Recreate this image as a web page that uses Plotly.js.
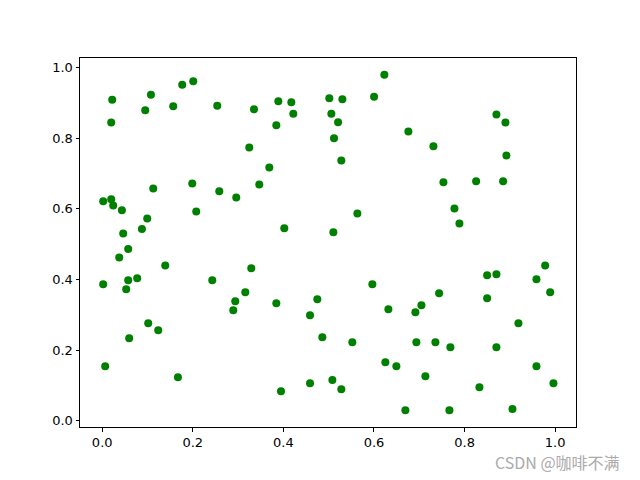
<!DOCTYPE html>
<html>
<head>
<meta charset="utf-8">
<script src="https://cdn.plot.ly/plotly-3.0.1.min.js"></script>
<style>html,body{margin:0;padding:0;background:#fff;}</style>
</head>
<body>
<div id="chart" style="width:640px;height:480px;"></div>
<script>
const xValues = [0.0221,0.1076,0.1767,0.2010,0.0950,0.1568,0.2540,0.3351,0.3888,0.4175,
0.4219,0.3844,0.5014,0.5302,0.5059,0.5207,0.5118,0.5279,0.0199,0.3247,
0.3689,0.3468,0.1988,0.1127,0.2585,0.2960,0.0022,0.0199,0.0243,0.0435,
0.2076,0.0994,0.0877,0.0464,0.4020,0.5103,0.6229,0.6002,0.6759,0.7312,
0.8703,0.8902,0.8924,0.7533,0.8255,0.8851,0.5633,0.7776,0.7886,0.0574,
0.0376,0.1392,0.3291,0.0022,0.0574,0.0773,0.0530,0.2430,0.2938,0.3159,
0.2894,0.3844,0.4749,0.4588,0.4860,0.1016,0.1237,0.0596,0.0066,0.1672,
0.3947,0.4588,0.5081,0.5279,0.9779,0.8498,0.8703,0.9587,0.9890,0.5964,
0.7438,0.8498,0.6318,0.7047,0.6914,0.9189,0.5522,0.6936,0.7356,0.7687,
0.8703,0.6251,0.6494,0.7135,0.9587,0.9962,0.8328,0.6693,0.7665,0.9057];
const yValues = [0.9088,0.9229,0.9511,0.9605,0.8785,0.8898,0.8918,0.8814,0.9040,0.9011,
0.8692,0.8362,0.9124,0.9096,0.8692,0.8446,0.7994,0.7364,0.8438,0.7732,
0.7167,0.6686,0.6715,0.6573,0.6497,0.6319,0.6215,0.6271,0.6093,0.5960,
0.5924,0.5726,0.5424,0.5302,0.5452,0.5339,0.9794,0.9172,0.8184,0.7768,
0.8664,0.8438,0.7506,0.6751,0.6780,0.6780,0.5867,0.6008,0.5585,0.4859,
0.4624,0.4398,0.4314,0.3862,0.3975,0.4031,0.3720,0.3975,0.3381,0.3636,
0.3127,0.3325,0.3438,0.2986,0.2364,0.2760,0.2562,0.2336,0.1545,0.1234,
0.0839,0.1065,0.1158,0.0895,0.4398,0.4116,0.4144,0.4003,0.3636,0.3862,
0.3607,0.3466,0.3155,0.3268,0.3071,0.2760,0.2223,0.2223,0.2223,0.2082,
0.2082,0.1658,0.1545,0.1263,0.1545,0.1065,0.0952,0.0302,0.0302,0.0331];
const tickVals = [0.0,0.2,0.4,0.6,0.8,1.0];
const tickText = ["0.0","0.2","0.4","0.6","0.8","1.0"];

const axisCommon = {
  showgrid:false, zeroline:false, showline:true, mirror:true,
  linecolor:'#000', linewidth:1, ticks:'outside', ticklen:3.5, tickwidth:1,
  tickcolor:'#000', tickvals:tickVals, ticktext:tickText,
  tickfont:{family:'DejaVu Sans', size:13, color:'#000'}
};

Plotly.newPlot('chart', [{
  x:xValues, y:yValues, type:'scatter', mode:'markers',
  marker:{color:'#008000', size:8}
}], {
  width:640, height:480,
  margin:{l:80, r:64, t:58, b:53, pad:0},
  paper_bgcolor:'#fff', plot_bgcolor:'#fff',
  showlegend:false,
  xaxis:Object.assign({range:[-0.049,1.046]}, axisCommon),
  yaxis:Object.assign({range:[-0.0175,1.0266]}, axisCommon),
  annotations:[{
    text:'CSDN @咖啡不满', xref:'paper', yref:'paper', x:0.962, y:-0.094,
    xanchor:'center', yanchor:'middle', showarrow:false,
    font:{family:'Noto Sans CJK SC', size:16, color:'#aaaaaa'}
  }]
}, {displayModeBar:false, staticPlot:true});
</script>
</body>
</html>
